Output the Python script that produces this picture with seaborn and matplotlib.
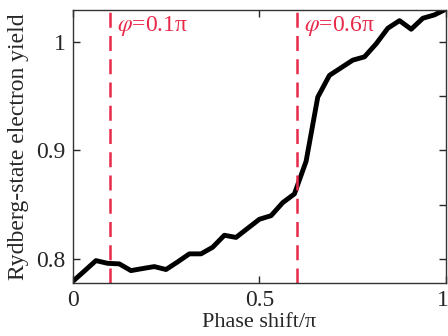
import numpy as np
import pandas as pd
import matplotlib
matplotlib.use("Agg")
import matplotlib.pyplot as plt
import matplotlib.transforms as mtransforms
from matplotlib.ticker import FixedLocator
import seaborn as sns

phase = np.arange(33) / 32
yield_vals = [0.7794, 0.789, 0.7987, 0.7962, 0.7957, 0.7895, 0.7914, 0.7932,
              0.7905, 0.7975, 0.8049, 0.8049, 0.811, 0.822, 0.820, 0.8284,
              0.8367, 0.8400, 0.852, 0.860, 0.890, 0.949, 0.969, 0.976,
              0.983, 0.986, 0.998, 1.0123, 1.0193, 1.0114, 1.0215, 1.0246, 1.030]
marker_phases = [0.1, 0.6]
marker_labels = [r"$\varphi$=0.1π", r"$\varphi$=0.6π"]

df = pd.DataFrame({"phase": phase, "yield": yield_vals})

sns.set_style("ticks")
plt.rcParams["font.family"] = ["Liberation Serif", "DejaVu Serif"]
plt.rcParams["mathtext.fontset"] = "stix"

red = "#e8294a"

fig = plt.figure(figsize=(4.48, 3.36), dpi=100)
ax = fig.add_axes([0.162, 0.159, 0.834, 0.811])

sns.lineplot(data=df, x="phase", y="yield", color="black", linewidth=3.5, ax=ax)

for xp, lab in zip(marker_phases, marker_labels):
    ax.axvline(xp, color=red, linewidth=1.8, linestyle=(0, (6, 3.3)))
    ax.text(xp + 0.02, 0.94, lab, color=red, fontsize=17,
            transform=ax.get_xaxis_transform(), va="center")

ax.set_xlim(0, 1)
ax.set_ylim(0.7785, 1.029)
ax.set_xticks([0, 0.5, 1])
ax.set_xticklabels(["0", "0.5", "1"])
ax.set_yticks([0.8, 0.9, 1.0])
ax.set_yticklabels(["0.8", "0.9", "1"])
ax.yaxis.set_minor_locator(FixedLocator([0.85, 0.95]))
ax.tick_params(which="major", direction="in", top=True, right=True,
               length=5, width=1, labelsize=17, pad=5)
ax.tick_params(which="minor", direction="in", left=False, right=True, length=5, width=1)
for s in ax.spines.values():
    s.set_linewidth(1)
    s.set_color("#333333")

# keep the "1" at the right edge inside the figure
last = ax.get_xticklabels()[-1]
last.set_transform(last.get_transform() + mtransforms.ScaledTranslation(-3 / 100, 0, fig.dpi_scale_trans))

ax.set_xlabel("Phase shift/π", fontsize=16, labelpad=2)
ax.set_ylabel("Rydberg-state electron yield", fontsize=17, labelpad=5)

fig.savefig("out.png", dpi=100)
